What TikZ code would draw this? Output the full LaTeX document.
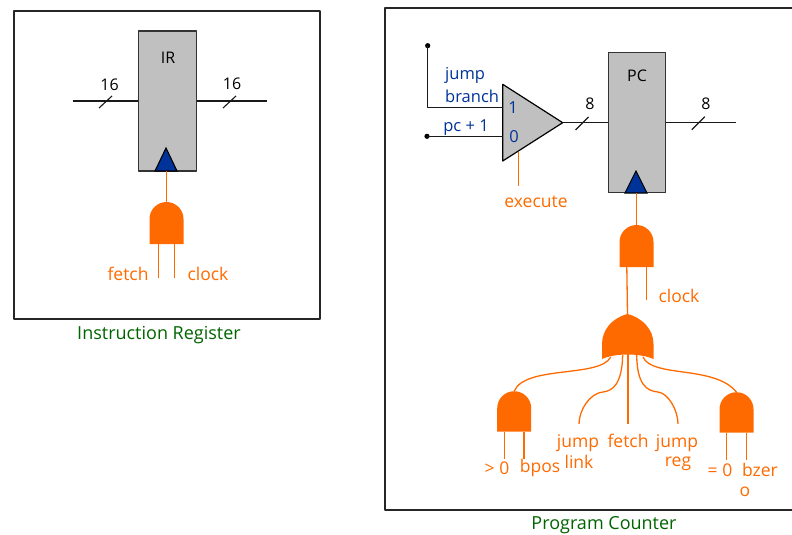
\documentclass[tikz,border=0pt]{standalone}
\usepackage{fontspec}
\setmainfont{Open Sans}
\usetikzlibrary{calc}
\definecolor{ctlorange}{HTML}{FF6A00}
\definecolor{busblue}{HTML}{003399}
\definecolor{regfill}{HTML}{C0C0C0}
\definecolor{captgreen}{HTML}{006400}
\def\gateh{25}
\def\gatein{10}
\tikzset{
  wire/.style={line width=1.1pt,black!90},
  ctl/.style={line width=1.3pt,ctlorange},
  regbox/.style={draw=black!80,line width=1.2pt,fill=regfill,inner sep=0pt},
  clktri/.style={draw=black,line width=1.1pt,fill=busblue,line join=miter},
  ctltext/.style={ctlorange,inner sep=0pt,font=\fontsize{17.5}{20}\selectfont},
  bustext/.style={busblue,inner sep=0pt,font=\fontsize{16.5}{20}\selectfont},
  blk/.style={black,inner sep=0pt,font=\fontsize{16}{20}\selectfont},
  capt/.style={captgreen,inner sep=0pt,font=\fontsize{18}{20}\selectfont},
  andgate/.pic={
    \fill[ctlorange] (-17,0) -- (-17,-\gateh) .. controls (-17,-\gateh-9.4) and (-9.4,-\gateh-17) .. (0,-\gateh-17)
      .. controls (9.4,-\gateh-17) and (17,-\gateh-9.4) .. (17,-\gateh) -- (17,0) -- cycle;
    \coordinate (-top) at (0,-\gateh-17);
    \coordinate (-a) at (-\gatein,0);
    \coordinate (-b) at (\gatein,0);
  }
}
\begin{document}
\begin{tikzpicture}[x=1pt,y=-1pt,line join=round]
\useasboundingbox (0,0) rectangle (792,535);
% frames
\draw[line width=1.2pt,black!85] (14,11) rectangle (320,319);
\draw[line width=1.2pt,black!85] (792,8) -- (385,8) -- (385,510) -- (792,510);
% instruction register
\node[regbox,minimum width=57.5pt,minimum height=140pt] (ir) at (167.5,101) {};
\node[blk] (irname) at (168,58) {IR};
\draw[clktri] (155,171) -- (166,148) -- (177,171) -- cycle;
\coordinate (irin) at (72.5,101);
\coordinate (irout) at (267,101);
\draw[wire] (irin) -- (ir.west);
\draw[wire] (ir.east) -- (irout);
\coordinate (irsa) at (105.5,102);
\coordinate (irsb) at (229.5,102);
\foreach \s in {irsa,irsb} \draw[wire] ($(\s)+(-6.5,6)$) -- ($(\s)+(6.5,-6)$);
\node[blk] (irw) at (109.5,85) {16};
\node[blk] (irv) at (232,84) {16};
\def\gateh{25}\def\gatein{8}
\pic (gir) at (166.5,244) {andgate};
\coordinate (irclk) at (166.5,171);
\draw[ctl] (irclk) -- (gir-top);
\coordinate (gira) at (158.5,278);
\coordinate (girb) at (174.5,278);
\draw[ctl] (gir-a) -- (gira);
\draw[ctl] (gir-b) -- (girb);
\node[ctltext] (irfetch) at (128,274) {fetch};
\node[ctltext] (irclock) at (208,274) {clock};
\node[capt] (ircapt) at (159,335.5) {Instruction Register};
% mux
\coordinate (muxa) at (502.7,84.3);
\coordinate (muxb) at (562.7,122.7);
\coordinate (muxc) at (502.7,161);
\fill[regfill,draw=black,line width=1.2pt] (muxa) -- (muxb) -- (muxc) -- cycle;
\fill (427.7,45.7) circle (2.6pt) coordinate (dota);
\fill (427,136.3) circle (2.6pt) coordinate (dotb);
\coordinate (muxone) at (502.7,107.7);
\coordinate (muxzero) at (502.7,136.3);
\draw[wire] (dota) |- (muxone);
\draw[wire] (dotb) -- (muxzero);
\node[bustext,anchor=west] (lbjump) at (445,75.5) {jump};
\node[bustext,anchor=west] (lbbranch) at (445,96) {branch};
\node[bustext] (lbpc) at (466,128) {pc + 1};
\node[bustext] (lbone) at (513,108) {1};
\node[bustext] (lbzero) at (514,137) {0};
\coordinate (muxsel) at (518.3,151.7);
\coordinate (muxselb) at (518.3,185.7);
\draw[ctl] (muxsel) -- (muxselb);
\node[ctltext] (lbexec) at (536,202) {execute};
% program counter
\node[regbox,minimum width=57.5pt,minimum height=140pt] (pc) at (637,122.7) {};
\node[blk] (pcname) at (637,76) {PC};
\draw[clktri] (625,193) -- (636,171) -- (647,193) -- cycle;
\coordinate (pcout) at (735.7,122.7);
\draw[wire] (muxb) -- (pc.west);
\draw[wire] (pc.east) -- (pcout);
\coordinate (pcsa) at (582,123.5);
\coordinate (pcsb) at (698.3,123.2);
\foreach \s in {pcsa,pcsb} \draw[wire] ($(\s)+(-6.5,6.5)$) -- ($(\s)+(6.5,-6.5)$);
\node[blk] (pcw) at (590,104) {8};
\node[blk] (pcv) at (706,104) {8};
% clock gate
\def\gatein{9.7}
\pic (gpc) at (636.5,267) {andgate};
\coordinate (pcclk) at (636.5,193);
\draw[ctl] (pcclk) -- (gpc-top);
\coordinate (gpcb) at (646.2,300);
\draw[ctl] (gpc-b) -- (gpcb);
\node[ctltext] (pcclock) at (679,296) {clock};
% or gate
\fill[ctlorange] (602,359) -- (602,344) .. controls (602,330) and (612,318) .. (627.5,314)
  coordinate (orout) .. controls (643,318) and (653.5,330) .. (653.5,344) -- (653.5,359)
  .. controls (640,353) and (615,353) .. (602,359) -- cycle;
\draw[ctl] (gpc-a) -- (orout);
\coordinate (ora) at (610.7,357);
\coordinate (orb) at (622.7,355);
\coordinate (orc) at (628,354);
\coordinate (ord) at (636.7,355);
\coordinate (ore) at (643,357);
% lower gates
\def\gateh{23.5}\def\gatein{9.8}
\pic (gpos) at (514.2,431.7) {andgate};
\pic (gzer) at (736.5,432.7) {andgate};
\coordinate (linka) at (579,424);
\coordinate (fetcha) at (628,424);
\coordinate (rega) at (678,424);
\draw[ctl] (ora) .. controls (600,378) and (525,365) .. (gpos-top);
\draw[ctl] (orb) .. controls (622,385) and (612,391) .. (603,392) .. controls (590,393) and (579,410) .. (linka);
\draw[ctl] (orc) -- (fetcha);
\draw[ctl] (ord) .. controls (637,385) and (647,391) .. (658,392) .. controls (668,393) and (678,410) .. (rega);
\draw[ctl] (ore) .. controls (652,378) and (715,365) .. (gzer-top);
\foreach \g in {gpos,gzer} {
  \draw[ctl] (\g-a) -- ++(0,27.5);
  \draw[ctl] (\g-b) -- ++(0,27.5);
}
\node[ctltext] (lbgt) at (497,468) {> 0};
\node[ctltext] (lbbpos) at (540,468) {bpos};
\node[ctltext] (lbjl) at (578,443) {jump};
\node[ctltext] (lblink) at (579,462) {link};
\node[ctltext] (lbfetch) at (628,441) {fetch};
\node[ctltext] (lbjr) at (677,443) {jump};
\node[ctltext] (lbreg) at (678,464) {reg};
\node[ctltext] (lbeq) at (720,470) {= 0};
\node[ctltext] (lbzer) at (760,470) {bzer};
\node[ctltext] (lbo) at (745,492) {o};
\node[capt] (pccapt) at (604,525.5) {Program Counter};
\end{tikzpicture}
\end{document}
